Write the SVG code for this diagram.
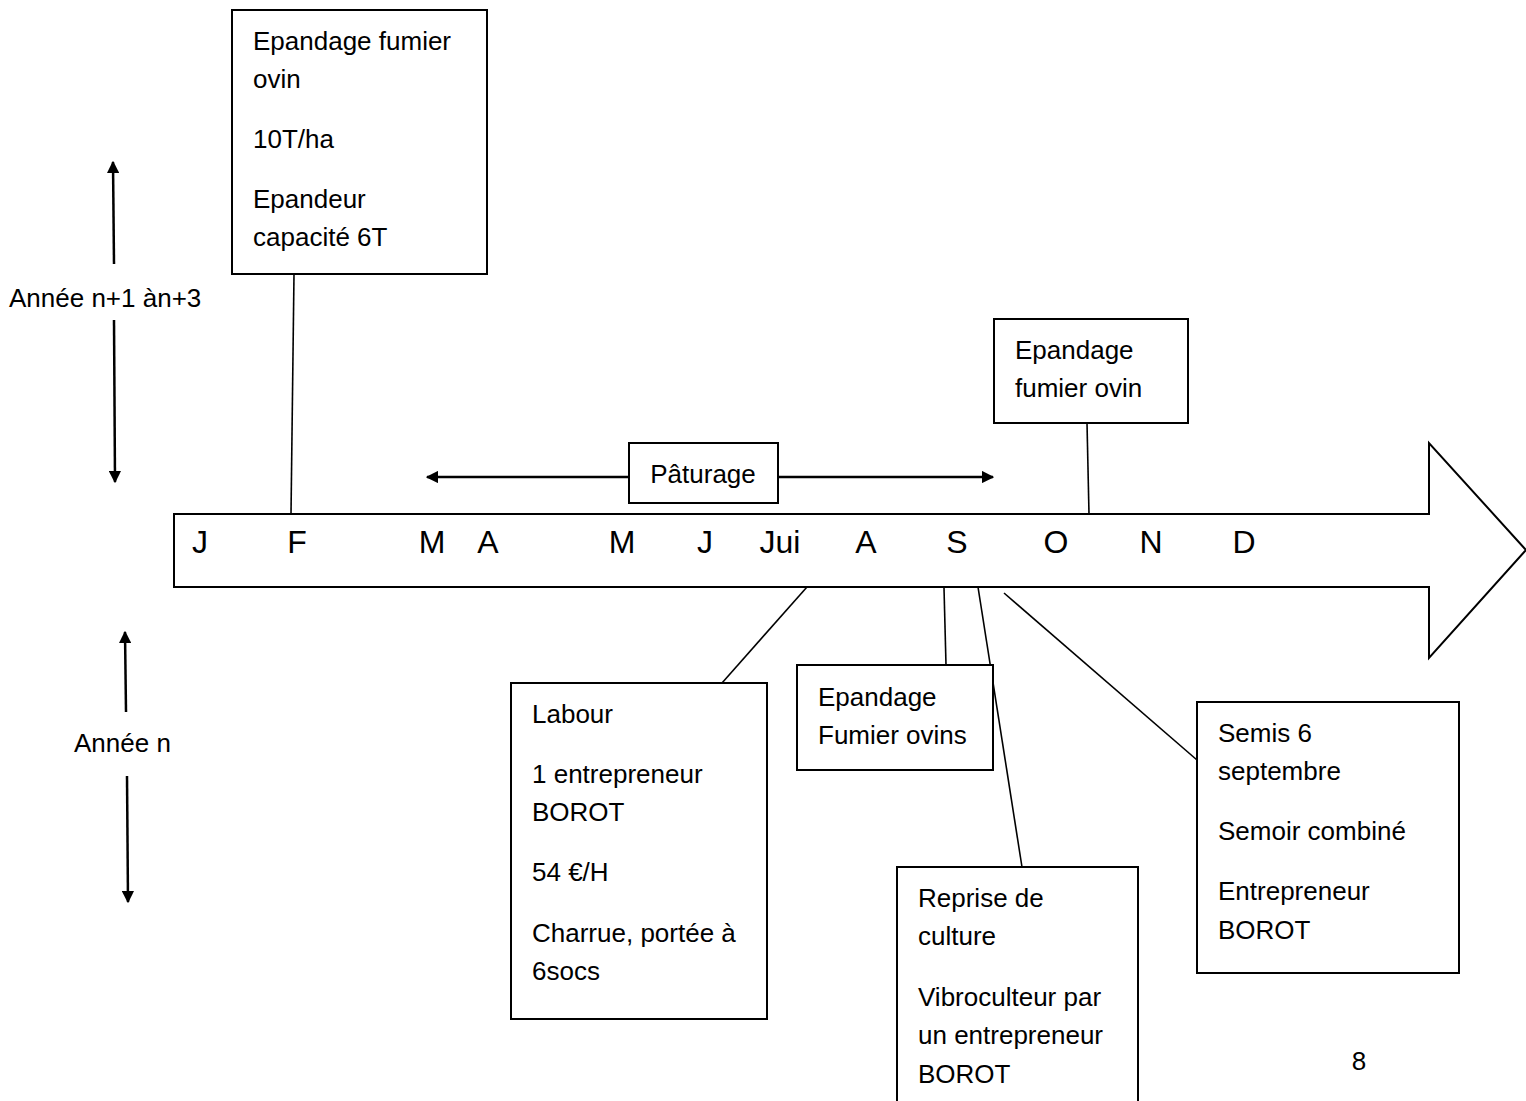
<svg xmlns="http://www.w3.org/2000/svg" width="1526" height="1101" viewBox="0 0 1526 1101">
<style>
text{font-family:"Liberation Sans",Arial,sans-serif;font-size:26px;fill:#000}
.mo{font-size:32px;text-anchor:middle}
.box{fill:#fff;stroke:#000;stroke-width:2}
.ln{stroke:#000;stroke-width:1.6;fill:none}
.ar{stroke:#000;stroke-width:2.5;fill:none}
.m{text-anchor:middle}
</style>
<defs>
<marker id="ah" viewBox="0 0 10 10" refX="9" refY="5" markerWidth="5" markerHeight="5" orient="auto" markerUnits="strokeWidth"><path d="M0,0 L10,5 L0,10 z" fill="#000"/></marker>
</defs>
<rect width="1526" height="1101" fill="#fff"/>
<g id="connectors">
<line class="ln" x1="294" y1="274" x2="291" y2="514"/>
<line class="ln" x1="1087" y1="423" x2="1089" y2="514"/>
<line class="ln" x1="807" y1="587" x2="722" y2="683"/>
<line class="ln" x1="944" y1="588" x2="946" y2="665"/>
<line class="ln" x1="978" y1="587" x2="1022" y2="867"/>
<line class="ln" x1="1004" y1="593" x2="1197" y2="760"/>
<line class="ar" x1="629" y1="477" x2="427" y2="477" marker-end="url(#ah)"/>
<line class="ar" x1="778" y1="477" x2="993" y2="477" marker-end="url(#ah)"/>
<line class="ar" x1="114" y1="264" x2="113" y2="162" marker-end="url(#ah)"/>
<line class="ar" x1="114" y1="320" x2="115" y2="482" marker-end="url(#ah)"/>
<line class="ar" x1="126" y1="712" x2="125" y2="632" marker-end="url(#ah)"/>
<line class="ar" x1="127" y1="776" x2="128" y2="902" marker-end="url(#ah)"/>
</g>
<g id="timeline">
<path d="M174,514 H1429 V443 L1526,550 L1429,658 V587 H174 Z" fill="#fff" stroke="#000" stroke-width="2"/>
<text class="mo" x="200" y="553">J</text>
<text class="mo" x="297" y="553">F</text>
<text class="mo" x="432" y="553">M</text>
<text class="mo" x="488" y="553">A</text>
<text class="mo" x="622" y="553">M</text>
<text class="mo" x="705" y="553">J</text>
<text class="mo" x="780" y="553">Jui</text>
<text class="mo" x="866" y="553">A</text>
<text class="mo" x="957" y="553">S</text>
<text class="mo" x="1056" y="553">O</text>
<text class="mo" x="1151" y="553">N</text>
<text class="mo" x="1244" y="553">D</text>
</g>
<g id="label-n1">
<text x="9" y="307">Année n+1 àn+3</text>
</g>
<g id="label-n">
<text x="74" y="752">Année n</text>
</g>
<g id="box-fevrier">
<rect class="box" x="232" y="10" width="255" height="264"/>
<text x="253" y="50">Epandage fumier</text>
<text x="253" y="88">ovin</text>
<text x="253" y="148">10T/ha</text>
<text x="253" y="208">Epandeur</text>
<text x="253" y="246">capacité 6T</text>
</g>
<g id="box-octobre">
<rect class="box" x="994" y="319" width="194" height="104"/>
<text x="1015" y="359">Epandage</text>
<text x="1015" y="397">fumier ovin</text>
</g>
<g id="box-paturage">
<rect class="box" x="629" y="443" width="149" height="60"/>
<text class="m" x="703" y="483">Pâturage</text>
</g>
<g id="box-labour">
<rect class="box" x="511" y="683" width="256" height="336"/>
<text x="532" y="723">Labour</text>
<text x="532" y="783">1 entrepreneur</text>
<text x="532" y="821">BOROT</text>
<text x="532" y="881">54 €/H</text>
<text x="532" y="942">Charrue, portée à</text>
<text x="532" y="980">6socs</text>
</g>
<g id="box-epandage-ovins">
<rect class="box" x="797" y="665" width="196" height="105"/>
<text x="818" y="706">Epandage</text>
<text x="818" y="744">Fumier ovins</text>
</g>
<g id="box-reprise">
<rect class="box" x="897" y="867" width="241" height="250"/>
<text x="918" y="907">Reprise de</text>
<text x="918" y="945">culture</text>
<text x="918" y="1006">Vibroculteur par</text>
<text x="918" y="1044">un entrepreneur</text>
<text x="918" y="1083">BOROT</text>
</g>
<g id="box-semis">
<rect class="box" x="1197" y="702" width="262" height="271"/>
<text x="1218" y="742">Semis 6</text>
<text x="1218" y="780">septembre</text>
<text x="1218" y="840">Semoir combiné</text>
<text x="1218" y="900">Entrepreneur</text>
<text x="1218" y="939">BOROT</text>
</g>
<g id="page">
<text class="m" x="1359" y="1070">8</text>
</g>
</svg>
